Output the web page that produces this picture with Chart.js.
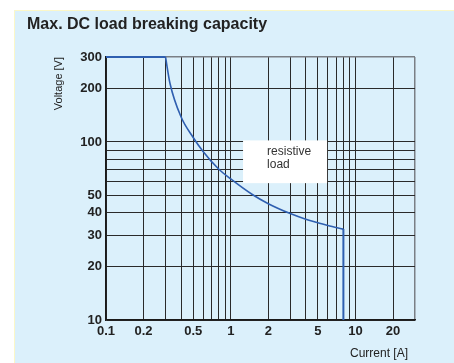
<!DOCTYPE html>
<html lang="en">
<head>
<meta charset="UTF-8">
<title>Max. DC load breaking capacity</title>
<script src="https://cdn.jsdelivr.net/npm/chart.js@4.4.1/dist/chart.umd.min.js"></script>
<style>
  html, body { margin: 0; padding: 0; background: #fff; }
  #chart { display: block; }
</style>
</head>
<body>
<canvas id="chart" width="454" height="363"></canvas>
<script>
  // limit curve: current [A] -> voltage [V]
  const flatCurrent = [0.1, 0.3];
  const flatVoltage = [300, 300];
  const curveCurrent = [0.3, 0.326, 0.4, 0.5, 0.6, 0.8, 1, 1.5, 2, 3, 4, 5, 6, 8];
  const curveVoltage = [300, 213, 138, 106, 88.5, 70.5, 62, 50.5, 45, 39.6, 36.8, 35.2, 33.9, 32.4];
  // vertical cut-off at 8 A
  const cutCurrent = [8, 8];
  const cutVoltage = [32.4, 10];

  // grid lines and tick labels
  const xGrid = [0.1, 0.2, 0.3, 0.4, 0.5, 0.6, 0.7, 0.8, 0.9, 1, 2, 3, 4, 5, 6, 7, 8, 9, 10, 20, 30];
  const xLabels = [0.1, 0.2, 0.5, 1, 2, 5, 10, 20];
  const yGrid = [10, 20, 30, 40, 50, 60, 70, 80, 90, 100, 200, 300];
  const yLabels = [10, 20, 30, 40, 50, 100, 200, 300];

  const toPoints = (xs, ys) => xs.map((x, i) => ({ x: x, y: ys[i] }));

  const BLUE = '#2f5fb0';
  const TEXT = '#222';
  const FONT = '"Liberation Sans", Arial, sans-serif';

  // card background, title and x axis caption
  const background = {
    id: 'background',
    beforeDraw(chart) {
      const c = chart.ctx;
      c.save();
      c.fillStyle = '#fff';
      c.fillRect(0, 0, chart.width, chart.height);
      c.fillStyle = '#dbf0fb';
      c.fillRect(14, 10, chart.width - 14, chart.height - 10);
      c.strokeStyle = '#fbf7c8';
      c.lineWidth = 1;
      c.beginPath();
      c.moveTo(14.5, chart.height);
      c.lineTo(14.5, 10.5);
      c.lineTo(chart.width, 10.5);
      c.stroke();
      c.fillStyle = TEXT;
      c.font = 'bold 16px ' + FONT;
      c.textBaseline = 'middle';
      c.fillText('Max. DC load breaking capacity', 27, 25);
      c.font = '12px ' + FONT;
      c.textAlign = 'right';
      c.fillText('Current [A]', chart.chartArea.right - 7, 354);
      c.restore();
    }
  };

  // white label box "resistive load"
  const labelBox = {
    id: 'labelBox',
    beforeDatasetsDraw(chart) {
      const c = chart.ctx;
      const x = chart.scales.x, y = chart.scales.y;
      const left = x.getPixelForValue(1.255), right = x.getPixelForValue(5.92);
      const top = y.getPixelForValue(102), bottom = y.getPixelForValue(58.7);
      c.save();
      c.fillStyle = '#fff';
      c.fillRect(left, top, right - left, bottom - top);
      c.fillStyle = '#333';
      c.font = '12px ' + FONT;
      c.textBaseline = 'middle';
      c.fillText('resistive', left + 24, top + 11);
      c.fillText('load', left + 24, top + 24);
      c.restore();
    }
  };

  const ctx = document.getElementById('chart').getContext('2d');
  const chart = new Chart(ctx, {
    type: 'scatter',
    data: {
      datasets: [
        { data: toPoints(flatCurrent, flatVoltage), borderColor: BLUE, borderWidth: 2, showLine: true, pointRadius: 0, clip: 4 },
        { data: toPoints(curveCurrent, curveVoltage), borderColor: BLUE, borderWidth: 1.6, showLine: true, pointRadius: 0, cubicInterpolationMode: 'monotone', clip: 4 },
        { data: toPoints(cutCurrent, cutVoltage), borderColor: BLUE, borderWidth: 2, showLine: true, pointRadius: 0, clip: 4 }
      ]
    },
    options: {
      responsive: false,
      animation: false,
      layout: { padding: { left: 14, top: 57, right: 39, bottom: 0 } },
      plugins: {
        legend: { display: false },
        tooltip: { enabled: false }
      },
      scales: {
        x: {
          type: 'logarithmic',
          min: 0.1,
          max: 30,
          afterBuildTicks: s => { s.ticks = xGrid.map(v => ({ value: v })); },
          afterFit: s => { s.height = 43; },
          grid: {
            drawTicks: false,
            color: c => (c.tick && c.tick.value === 30) ? '#7a7f85' : '#2a2a2a',
            lineWidth: c => (c.tick && c.tick.value === 30) ? 1.5 : 1
          },
          border: { color: '#1a1a1a', width: 1.5 },
          ticks: {
            autoSkip: false,
            maxRotation: 0,
            padding: 4,
            color: TEXT,
            font: { family: FONT, size: 13, weight: 'bold' },
            callback: v => xLabels.includes(v) ? String(v) : ''
          }
        },
        y: {
          type: 'logarithmic',
          min: 10,
          max: 300,
          afterBuildTicks: s => { s.ticks = yGrid.map(v => ({ value: v })); },
          afterFit: s => { s.width = 92; },
          grid: {
            drawTicks: false,
            color: c => (c.tick && c.tick.value === 300) ? '#7a7f85' : '#2a2a2a',
            lineWidth: c => (c.tick && c.tick.value === 300) ? 1.5 : 1
          },
          border: { color: '#1a1a1a', width: 1.5 },
          ticks: {
            autoSkip: false,
            padding: 4,
            color: TEXT,
            font: { family: FONT, size: 13, weight: 'bold' },
            callback: v => yLabels.includes(v) ? String(v) : ''
          },
          title: {
            display: true,
            text: 'Voltage [V]',
            align: 'end',
            color: TEXT,
            padding: { top: 38, bottom: 0 },
            font: { family: FONT, size: 11 }
          }
        }
      }
    },
    plugins: [background, labelBox]
  });
</script>
</body>
</html>
